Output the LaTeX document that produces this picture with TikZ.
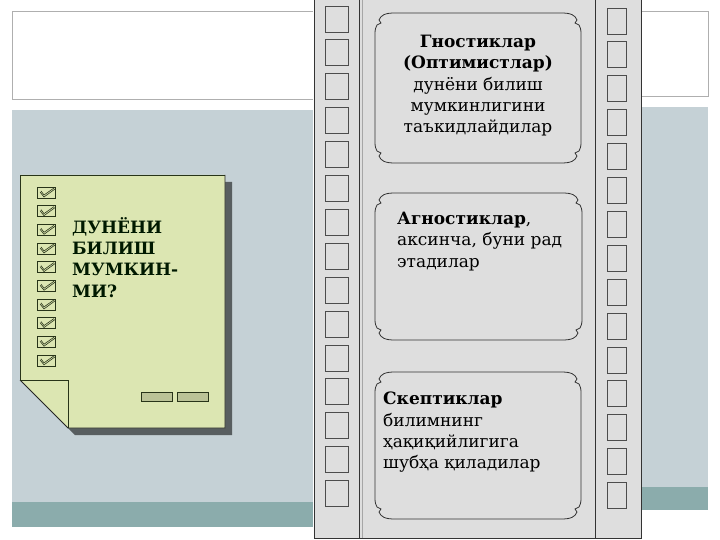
\documentclass[tikz,border=0pt]{standalone}
\usepackage{fontspec}
\setmainfont{DejaVu Serif}
\definecolor{slideblue}{RGB}{197,209,214}
\definecolor{slideteal}{RGB}{139,172,172}
\definecolor{filmgray}{RGB}{222,222,222}
\definecolor{notegreen}{RGB}{220,230,178}
\definecolor{notedark}{RGB}{40,52,25}
\definecolor{panelgray}{RGB}{175,175,175}
\tikzset{
  panelline/.style={draw=panelgray, line width=1pt},
  filmline/.style={draw=black!80, line width=0.8pt},
  holebox/.style={draw=black!70, line width=0.9pt, fill=filmgray},
  winline/.style={draw=black!80, line width=0.8pt, fill=filmgray},
  wintext/.style={inner sep=0pt, font=\fontsize{17}{21.3}\selectfont, text=black},
  notetxt/.style={inner sep=0pt, font=\fontsize{17}{21.3}\selectfont\bfseries, text=black!90!green},
  chkbox/.style={draw=notedark, line width=0.6pt},
}
\newcommand{\filmwin}[4]{%
  \draw[winline] ({#1+20},#2) -- ({#3-20},#2)
   .. controls ({#3-10},#2) and ({#3-6},{#2+2}) .. ({#3-4},{#2+7})
   -- ({#3-6},{#2+10}) -- ({#3-2},{#2+12})
   .. controls ({#3-1},{#2+14}) and (#3,{#2+16}) .. (#3,{#2+20})
   -- (#3,{#4-20})
   .. controls (#3,{#4-16}) and ({#3-1},{#4-14}) .. ({#3-2},{#4-12})
   -- ({#3-6},{#4-10}) -- ({#3-4},{#4-7})
   .. controls ({#3-6},{#4-2}) and ({#3-10},#4) .. ({#3-20},#4)
   -- ({#1+20},#4)
   .. controls ({#1+10},#4) and ({#1+6},{#4-2}) .. ({#1+4},{#4-7})
   -- ({#1+6},{#4-10}) -- ({#1+2},{#4-12})
   .. controls ({#1+1},{#4-14}) and (#1,{#4-16}) .. (#1,{#4-20})
   -- (#1,{#2+20})
   .. controls (#1,{#2+16}) and ({#1+1},{#2+14}) .. ({#1+2},{#2+12})
   -- ({#1+6},{#2+10}) -- ({#1+4},{#2+7})
   .. controls ({#1+6},{#2+2}) and ({#1+10},#2) .. ({#1+20},#2) -- cycle;}
\newcommand{\chk}[1]{%
  \draw[chkbox] (37,#1) rectangle (55,{#1+11});
  \draw[chkbox] (40,{#1+5}) -- (44,{#1+10}) -- (55,{#1+2});
  \draw[chkbox] (41,{#1+4}) -- (44,{#1+8}) -- (54,{#1+1});}
\begin{document}
\begin{tikzpicture}[x=1pt,y=-1pt]
\useasboundingbox (0,0) rectangle (720,540);
\fill[white] (0,0) rectangle (720,540);
% left slide panel
\draw[panelline] (12,100) -- (12,12) -- (313,12);
\draw[panelline] (12,100) -- (313,100);
\fill[slideblue] (12,110) rectangle (313,502);
\fill[slideteal] (12,502) rectangle (313,527);
% right slide panel
\draw[panelline] (641,12) -- (708,12) -- (708,97) -- (641,97);
\fill[slideblue] (641,107) rectangle (708,487);
\fill[slideteal] (641,487) rectangle (708,510);
% film strip
\fill[filmgray] (314,-2) rectangle (641,538);
\draw[filmline] (314,-2) -- (314,538) -- (641,538) -- (641,-2);
\draw[filmline] (359,-2) -- (359,538);
\draw[draw=black!35, line width=0.6pt] (362,-2) -- (362,538);
\draw[filmline] (595,-2) -- (595,538);
\foreach \k in {0,...,14}{
  \draw[holebox] (325,{6+33.9*\k}) rectangle (348,{32+33.9*\k});
  \draw[holebox] (607,{8+33.9*\k}) rectangle (626,{34+33.9*\k});
}
% frames
\filmwin{375}{13}{581}{163}
\filmwin{375}{193}{582}{340}
\filmwin{375}{372}{581}{519}
\node[wintext, anchor=north, align=center] (t1) at (478,35)
  {\textbf{Гностиклар}\\\textbf{(Оптимистлар)}\\дунёни билиш\\мумкинлигини\\таъкидлайдилар};
\node[wintext, anchor=north west, align=left] (t2) at (397,212)
  {\textbf{Агностиклар},\\аксинча, буни рад\\этадилар};
\node[wintext, anchor=north west, align=left] (t3) at (383,392)
  {\textbf{Скептиклар}\\билимнинг\\ҳақиқийлигига\\шубҳа қиладилар};
% note paper
\fill[black, opacity=0.55] (27,182) -- (232,182) -- (232,435) -- (75,435) -- (27,387) -- cycle;
\fill[notegreen] (20,175) -- (225,175) -- (225,428) -- (68,428) -- (20,380) -- cycle;
\draw[draw=notedark, line width=0.8pt] (20,380) -- (20,175) -- (225,175);
\draw[draw=black!85, line width=0.8pt] (20,380) -- (68,428) -- (225,428) -- (225,175);
\draw[draw=notedark, line width=0.8pt] (20,380) -- (68,380) -- (68,428);
\foreach \k in {0,...,9}{\pgfmathsetmacro\yy{187+18.65*\k}\chk{\yy}}
\node[notetxt, anchor=north west, align=left] (q) at (72,217)
  {ДУНЁНИ\\БИЛИШ\\МУМКИН-\\МИ?};
\draw[draw=notedark, line width=0.8pt, fill=notegreen!85!black] (141,392) rectangle (172,401);
\draw[draw=notedark, line width=0.8pt, fill=notegreen!85!black] (177,392) rectangle (208,401);
\end{tikzpicture}
\end{document}
